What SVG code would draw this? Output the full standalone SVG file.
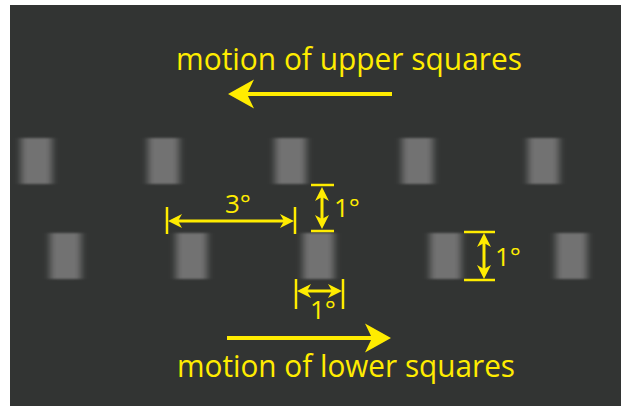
<svg xmlns="http://www.w3.org/2000/svg" width="622" height="407" viewBox="0 0 622 407">
<style>
.lbl{fill:#FFEC00;font-family:"Open Sans","Noto Sans",sans-serif;}
.big{font-size:31px;}
.deg{font-size:26px;}
.sq{fill:#727272;filter:url(#blur);}
.ln{stroke:#FFEC00;fill:none;}
.shaft{stroke-width:4;}
.dim{stroke-width:3;}
.tick{stroke-width:2.5;}
</style>
<defs>
<filter id="blur" x="-50%" y="-20%" width="200%" height="140%"><feGaussianBlur stdDeviation="3.6 0.9"/></filter>
<marker id="bigHead" markerUnits="userSpaceOnUse" viewBox="-28 -16 30 32" markerWidth="30" markerHeight="32" refX="-19" refY="0" orient="auto"><path d="M0,0 L-26,-14.5 L-19,0 L-26,14.5 Z" fill="#FFEC00"/></marker>
<marker id="dimHead" markerUnits="userSpaceOnUse" viewBox="-16 -9 18 18" markerWidth="18" markerHeight="18" refX="-10" refY="0" orient="auto-start-reverse"><path d="M0,0 L-14,-7 L-10,0 L-14,7 Z" fill="#FFEC00"/></marker>
</defs>
<rect x="10" y="5" width="611" height="401" fill="#323433"/>
<g id="upper-squares">
<rect id="u1" class="sq" x="21" y="138" width="31" height="46"/>
<rect id="u2" class="sq" x="148" y="138" width="31" height="46"/>
<rect id="u3" class="sq" x="275" y="138" width="31" height="46"/>
<rect id="u4" class="sq" x="402" y="138" width="31" height="46"/>
<rect id="u5" class="sq" x="528" y="138" width="31" height="46"/>
</g>
<g id="lower-squares">
<rect id="l1" class="sq" x="50" y="233" width="31" height="46"/>
<rect id="l2" class="sq" x="176" y="233" width="31" height="46"/>
<rect id="l3" class="sq" x="303" y="233" width="31" height="46"/>
<rect id="l4" class="sq" x="430" y="233" width="31" height="46"/>
<rect id="l5" class="sq" x="556" y="233" width="31" height="46"/>
</g>
<g id="connectors">
<line class="ln shaft" x1="392" y1="94" x2="247" y2="94" marker-end="url(#bigHead)"/>
<line class="ln shaft" x1="227" y1="338" x2="372" y2="338" marker-end="url(#bigHead)"/>
<g id="dim-3deg">
<line class="ln tick" x1="167" y1="207" x2="167" y2="234"/>
<line class="ln tick" x1="295" y1="207" x2="295" y2="234"/>
<line class="ln dim" x1="178" y1="221" x2="284" y2="221" marker-start="url(#dimHead)" marker-end="url(#dimHead)"/>
</g>
<g id="dim-gap">
<line class="ln tick" x1="311" y1="185" x2="334" y2="185"/>
<line class="ln tick" x1="311" y1="231" x2="334" y2="231"/>
<line class="ln dim" x1="322" y1="197" x2="322" y2="219" marker-start="url(#dimHead)" marker-end="url(#dimHead)"/>
</g>
<g id="dim-height">
<line class="ln tick" x1="464" y1="232" x2="495" y2="232"/>
<line class="ln tick" x1="464" y1="280" x2="495" y2="280"/>
<line class="ln dim" x1="484" y1="243" x2="484" y2="269" marker-start="url(#dimHead)" marker-end="url(#dimHead)"/>
</g>
<g id="dim-width">
<line class="ln tick" x1="296" y1="279" x2="296" y2="309"/>
<line class="ln tick" x1="343" y1="279" x2="343" y2="309"/>
<line class="ln dim" x1="307" y1="291" x2="332" y2="291" marker-start="url(#dimHead)" marker-end="url(#dimHead)"/>
</g>
</g>
<g id="labels">
<text class="lbl big" x="176" y="70" textLength="346" lengthAdjust="spacingAndGlyphs">motion of upper squares</text>
<text class="lbl big" x="177" y="377" textLength="338" lengthAdjust="spacingAndGlyphs">motion of lower squares</text>
<text class="lbl deg" x="238" y="213" text-anchor="middle">3°</text>
<text class="lbl deg" x="334" y="217">1°</text>
<text class="lbl deg" x="495" y="266">1°</text>
<text class="lbl deg" x="323" y="319" text-anchor="middle">1°</text>
</g>
</svg>
